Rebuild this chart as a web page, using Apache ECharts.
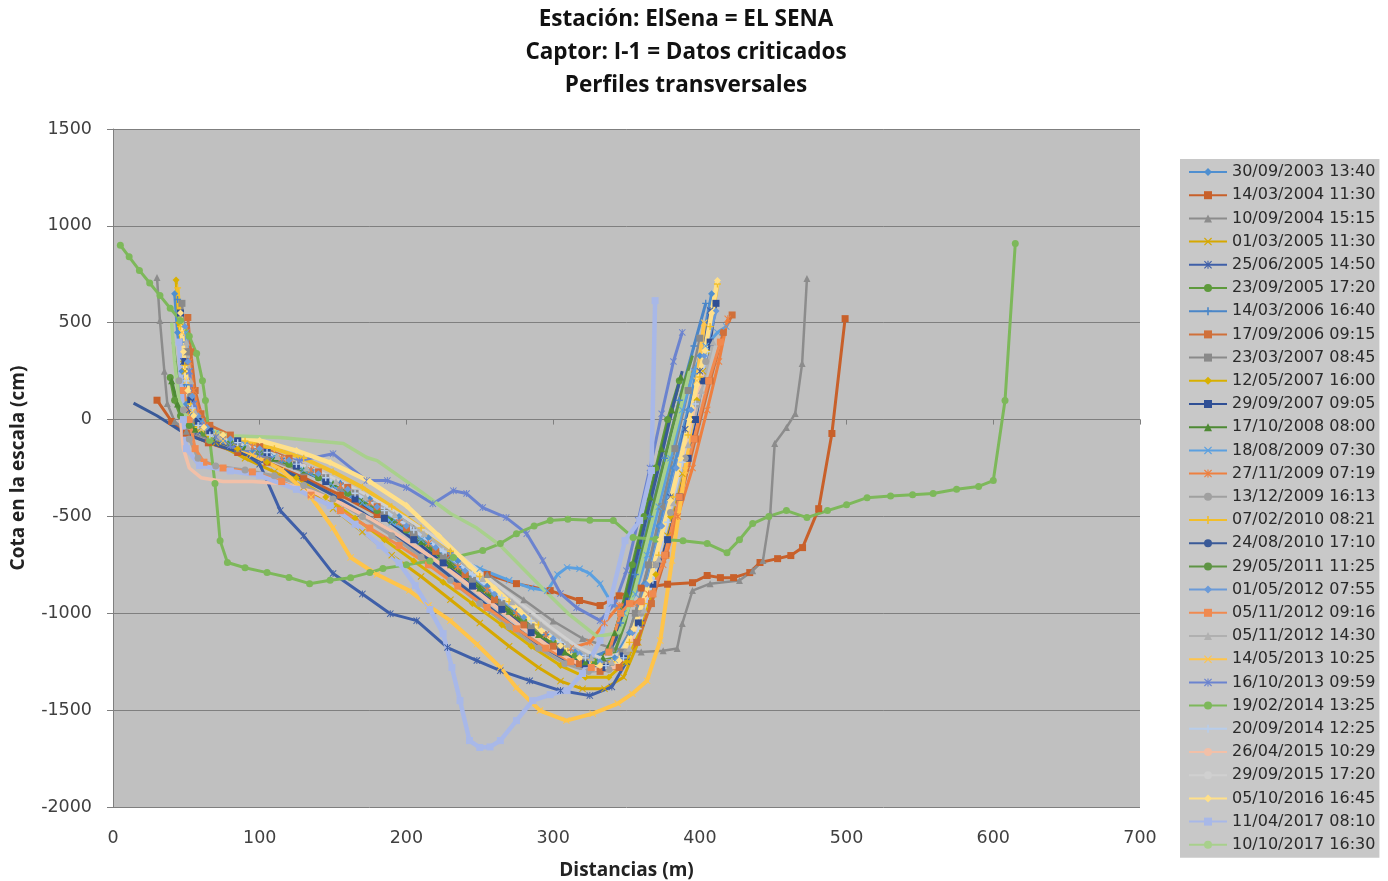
<!DOCTYPE html>
<html><head><meta charset="utf-8">
<script src="https://cdn.jsdelivr.net/npm/echarts@6/dist/echarts.min.js"></script>
<style>html,body{margin:0;padding:0;background:#fff}#c{width:1388px;height:881px}</style>
</head><body><div id="c"></div>
<script>
// ---- data ----
const titleLines = ['Estación: ElSena = EL SENA', 'Captor: I-1 = Datos criticados', 'Perfiles transversales'];
const xName = 'Distancias (m)';
const yName = 'Cota en la escala (cm)';
const xTicks = [0, 100, 200, 300, 400, 500, 600, 700];
const yTicks = [-2000, -1500, -1000, -500, 0, 500, 1000, 1500];
const seriesNames = ['30/09/2003 13:40','14/03/2004 11:30','10/09/2004 15:15','01/03/2005 11:30','25/06/2005 14:50','23/09/2005 17:20','14/03/2006 16:40','17/09/2006 09:15','23/03/2007 08:45','12/05/2007 16:00','29/09/2007 09:05','17/10/2008 08:00','18/08/2009 07:30','27/11/2009 07:19','13/12/2009 16:13','07/02/2010 08:21','24/08/2010 17:10','29/05/2011 11:25','01/05/2012 07:55','05/11/2012 09:16','05/11/2012 14:30','14/05/2013 10:25','16/10/2013 09:59','19/02/2014 13:25','20/09/2014 12:25','26/04/2015 10:29','29/09/2015 17:20','05/10/2016 16:45','11/04/2017 08:10','10/10/2017 16:30'];

const s01 = [[42,650],[44,450],[47,250],[50,80],[54,-20],[60,-60],[75,-110],[95,-160],[115,-210],[135,-270],[155,-330],[175,-410],[195,-500],[215,-610],[235,-730],[255,-860],[275,-990],[295,-1110],[315,-1200],[330,-1250],[342,-1230],[352,-1100],[362,-850],[372,-550],[382,-250],[392,50],[400,330],[408,650]];
const s02 = [[30,100],[40,-10],[50,-70],[65,-120],[85,-170],[105,-220],[130,-300],[155,-390],[180,-490],[205,-600],[230,-700],[255,-800],[275,-847],[298,-883],[318,-934],[332,-960],[345,-910],[360,-870],[378,-850],[395,-842],[405,-805],[414,-816],[423,-816],[434,-790],[441,-738],[453,-718],[462,-702],[470,-661],[481,-460],[490,-72],[499,521]];
const s03 = [[30,733],[32,511],[35,250],[37,83],[42,-10],[50,-60],[65,-100],[85,-150],[105,-200],[130,-270],[155,-350],[180,-450],[205,-560],[230,-680],[255,-800],[280,-930],[300,-1040],[320,-1130],[340,-1180],[360,-1200],[375,-1193],[384.5,-1182],[388,-1053],[395,-883],[407,-847],[427,-831],[436,-780],[443,-728],[448,-485],[451,-124],[459,-41],[465,31],[469.7,289],[473,728]];
const s04 = [[46,500],[49,250],[53,50],[58,-50],[70,-120],[90,-200],[110,-270],[130,-350],[150,-460],[170,-580],[190,-700],[210,-810],[230,-930],[250,-1050],[270,-1170],[290,-1280],[305,-1350],[320,-1390],[335,-1390],[348,-1330],[358,-1150],[368,-900],[378,-600],[388,-280],[396,0],[402,250]];
const s05 = [[48,300],[52,50],[58,-60],[70,-110],[85,-150],[100,-230],[114,-470],[130,-600],[150,-795],[170,-900],[189,-1002],[207,-1038],[228,-1177],[248,-1244],[264,-1296],[284,-1348],[305,-1399],[325,-1425],[340,-1380],[350,-1250],[360,-1050],[370,-750],[380,-400],[390,-50],[400,250],[407,563]];
const s06 = [[39,217],[42,100],[46,20],[52,-30],[62,-70],[80,-120],[100,-170],[120,-230],[140,-300],[160,-380],[180,-470],[200,-570],[220,-680],[240,-800],[260,-920],[280,-1040],[300,-1150],[315,-1220],[328,-1250],[338,-1200],[346,-1000],[354,-750],[362,-500],[370,-250],[378,0],[386,200]];
const s07 = [[44,620],[47,400],[50,180],[54,30],[60,-40],[75,-90],[95,-150],[115,-200],[135,-260],[155,-330],[175,-420],[195,-520],[215,-640],[235,-760],[255,-880],[275,-1000],[295,-1110],[312,-1190],[325,-1230],[336,-1200],[346,-1050],[356,-800],[366,-500],[376,-200],[386,100],[396,380],[404,600]];
const s08 = [[51,527],[53,350],[56,150],[60,30],[66,-30],[80,-80],[100,-140],[120,-200],[140,-270],[160,-350],[180,-450],[200,-560],[220,-680],[240,-800],[260,-930],[280,-1060],[300,-1170],[318,-1260],[332,-1300],[345,-1280],[357,-1150],[367,-950],[377,-700],[387,-400],[397,-100],[407,200],[416,450],[422,540]];
const s09 = [[47,600],[50,350],[53,120],[57,0],[65,-60],[85,-110],[105,-170],[125,-230],[145,-300],[165,-380],[185,-480],[205,-590],[225,-710],[245,-830],[265,-950],[285,-1070],[305,-1170],[322,-1240],[336,-1260],[347,-1200],[356,-1000],[365,-750],[374,-450],[383,-150],[392,150],[400,420]];
const s10 = [[43,720],[45,500],[48,300],[52,100],[57,-20],[65,-80],[85,-150],[105,-220],[125,-300],[145,-400],[165,-510],[185,-620],[205,-730],[225,-840],[245,-950],[265,-1060],[285,-1170],[305,-1270],[322,-1330],[338,-1330],[350,-1250],[360,-1050],[370,-800],[380,-500],[390,-200],[398,100],[405,350],[411,600]];
const s11 = [[46,550],[49,300],[53,100],[58,-10],[66,-60],[85,-110],[105,-170],[125,-240],[145,-320],[165,-410],[185,-510],[205,-620],[225,-740],[245,-860],[265,-980],[285,-1100],[305,-1200],[322,-1260],[336,-1280],[348,-1220],[358,-1050],[368,-850],[378,-620],[386,-400],[392,-200],[397,0],[402,200],[407,400],[411,600]];
const s12 = [[40,200],[44,80],[49,0],[56,-50],[70,-90],[90,-140],[110,-200],[130,-260],[150,-330],[170,-420],[190,-520],[210,-630],[230,-750],[250,-870],[270,-990],[290,-1110],[308,-1200],[322,-1250],[334,-1230],[342,-1100],[350,-900],[358,-650],[366,-400],[374,-150],[381,50],[387,220]];
const s13 = [[50,450],[52,250],[55,80],[60,-10],[70,-70],[90,-130],[110,-190],[130,-260],[150,-340],[170,-430],[190,-530],[210,-620],[230,-700],[250,-770],[270,-830],[285,-870],[296,-884],[303,-800],[309.5,-763],[318,-770],[325,-795],[332,-847],[340,-950],[348,-1000],[356,-900],[364,-700],[372,-450],[380,-200],[388,50],[396,250],[404,380],[412,450],[418,480]];
const s14 = [[52,300],[55,150],[58,40],[63,-30],[75,-80],[95,-140],[115,-200],[135,-260],[155,-340],[175,-430],[195,-530],[215,-640],[235,-760],[255,-880],[275,-1000],[295,-1110],[312,-1180],[325,-1150],[335,-1050],[345,-960],[355,-950],[365,-900],[375,-750],[385,-500],[395,-250],[405,50],[413,300],[419,520]];
const s15 = [[45,200],[48,50],[52,-100],[58,-200],[70,-240],[90,-260],[110,-290],[130,-340],[150,-410],[170,-500],[190,-600],[210,-710],[230,-830],[250,-950],[270,-1070],[290,-1180],[308,-1260],[324,-1300],[338,-1290],[350,-1200],[360,-1000],[370,-750],[380,-480],[390,-200],[398,80],[404,300]];
const s16 = [[44,680],[46,480],[49,280],[53,80],[58,-40],[70,-80],[90,-110],[110,-150],[130,-200],[150,-270],[170,-350],[190,-450],[210,-560],[230,-680],[250,-810],[270,-940],[290,-1060],[310,-1170],[326,-1240],[340,-1250],[352,-1150],[362,-950],[372,-700],[382,-400],[392,-80],[400,220],[407,480],[412,700]];
const s17 = [[14,85],[30,20],[46,-57],[55,-90],[70,-130],[90,-180],[110,-240],[130,-310],[150,-390],[170,-480],[190,-580],[210,-690],[230,-810],[250,-930],[270,-1050],[290,-1160],[308,-1240],[322,-1280],[334,-1260],[343,-1130],[351,-900],[359,-650],[367,-400],[375,-150],[382,80],[388,250]];
const s18 = [[41,400],[44,200],[48,60],[53,-20],[62,-70],[80,-110],[100,-160],[120,-220],[140,-290],[160,-370],[180,-460],[200,-560],[220,-670],[240,-790],[260,-910],[280,-1030],[300,-1140],[316,-1220],[330,-1260],[341,-1220],[349,-1050],[357,-800],[365,-550],[373,-300],[381,-50],[389,180],[395,330]];
const s19 = [[49,480],[51,300],[54,120],[58,20],[64,-40],[80,-100],[100,-150],[120,-210],[140,-280],[160,-360],[180,-450],[200,-550],[220,-660],[240,-780],[260,-900],[280,-1020],[300,-1130],[318,-1210],[332,-1250],[344,-1240],[354,-1100],[364,-850],[374,-550],[384,-250],[394,50],[403,330],[411,560]];
const s20 = [[48,150],[52,0],[56,-150],[62,-220],[75,-250],[95,-270],[115,-320],[135,-390],[155,-470],[175,-560],[195,-650],[215,-750],[235,-860],[255,-970],[275,-1080],[295,-1180],[312,-1250],[326,-1280],[338,-1200],[346,-1000],[352,-950],[360,-940],[368,-900],[376,-700],[386,-400],[396,-100],[406,200],[414,400]];
const s21 = [[50,400],[53,200],[56,40],[61,-40],[72,-90],[92,-140],[112,-190],[132,-250],[152,-320],[172,-400],[192,-490],[212,-590],[232,-700],[252,-820],[272,-940],[292,-1060],[310,-1160],[326,-1230],[340,-1250],[352,-1180],[362,-980],[372,-720],[382,-430],[392,-130],[401,150],[409,400]];
const s22 = [[47,450],[50,200],[54,40],[60,-50],[75,-110],[95,-180],[115,-260],[135,-400],[150,-560],[162,-712],[180,-800],[202,-883],[215,-960],[230,-1038],[248,-1160],[264,-1280],[275,-1384],[291,-1502],[309,-1554],[327,-1518],[344,-1466],[354,-1415],[364,-1348],[373,-1141],[381,-728],[390,-263],[398,201],[403,500]];
const s23 = [[52,250],[55,80],[60,-30],[70,-90],[80,-134],[100,-180],[127,-212],[150,-176],[173,-315],[187,-315],[200,-351],[218,-434],[232,-367],[241,-382],[252,-454],[268,-506],[282,-589],[293,-728],[305,-898],[316,-971],[332,-1038],[342,-950],[350,-780],[358,-520],[366,-250],[374,30],[382,300],[388,450]];
const s24 = [[5,900],[11,840],[18,770],[25,705],[32,640],[39,575],[46,511],[52,430],[57,341],[61,200],[63,98],[66,-108],[69.5,-330],[73,-625],[78,-738],[90,-765],[105,-790],[120,-815],[134,-847],[148,-830],[162,-816],[175,-790],[184,-769],[200,-750],[216,-730],[232,-712],[252,-676],[264,-640],[275,-589],[287,-550],[298,-521],[310,-515],[325,-520],[341,-521],[354.5,-609],[370,-618],[388.5,-625],[405,-640],[418.5,-687],[427,-620],[436,-537],[447,-500],[459,-470],[473,-506],[487,-470],[500,-440],[514,-403],[530,-395],[545,-388],[559,-382],[575,-360],[590,-345],[600,-315],[608,98],[615,909]];
const s25 = [[50,200],[54,60],[58,-30],[66,-80],[85,-120],[105,-170],[125,-230],[145,-300],[165,-380],[185,-470],[205,-570],[225,-680],[245,-800],[265,-920],[285,-1040],[305,-1150],[322,-1230],[336,-1270],[348,-1230],[358,-1080],[368,-830],[378,-530],[388,-220],[397,80],[405,350]];
const s26 = [[46,0],[48,-150],[52,-250],[60,-300],[75,-320],[95,-320],[115,-330],[135,-370],[155,-430],[175,-510],[195,-600],[215,-700],[235,-810],[255,-930],[275,-1050],[295,-1160],[312,-1240],[328,-1290],[342,-1280],[353,-1150],[363,-920],[373,-640],[383,-340],[393,-40],[402,240]];
const s27 = [[48,300],[51,120],[55,0],[62,-60],[78,-100],[98,-150],[118,-200],[138,-260],[158,-330],[178,-410],[198,-500],[218,-600],[238,-710],[258,-830],[278,-950],[298,-1070],[316,-1170],[332,-1230],[345,-1210],[355,-1080],[365,-850],[375,-560],[385,-260],[394,30],[402,300]];
const s28 = [[46,550],[48,350],[51,150],[55,20],[62,-40],[75,-80],[100,-108],[125,-160],[148,-222],[175,-320],[200,-444],[222,-600],[243,-754],[260,-870],[277,-986],[292,-1090],[305,-1167],[318,-1230],[332,-1270],[345,-1244],[355,-1080],[366,-831],[373,-620],[380,-418],[387,-200],[393,0],[398,180],[403.5,356],[408,550],[412,718]];
const s29 = [[45,400],[48,0],[50,-150],[59,-237],[80,-265],[100,-289],[125,-360],[148,-444],[165,-540],[182,-650],[195,-740],[206,-857],[216,-980],[225,-1105],[231,-1280],[236.5,-1451],[243,-1657],[250,-1693],[257,-1690],[264,-1657],[275,-1554],[286,-1451],[298,-1420],[309.5,-1399],[320,-1311],[332,-1141],[339,-935],[349,-625],[359,-521],[367,-263],[369.5,614]];
const s30 = [[40,500],[42,300],[45,100],[50,20],[60,-40],[80,-83],[114,-93],[157,-124],[173,-196],[180,-212],[209,-367],[230,-485],[248,-560],[264,-650],[290,-850],[310,-1000],[330,-1120],[345,-1100],[355,-900],[365,-600],[375,-300],[385,0],[393,250]];
const seriesData = [s01,s02,s03,s04,s05,s06,s07,s08,s09,s10,s11,s12,s13,s14,s15,s16,s17,s18,s19,s20,s21,s22,s23,s24,s25,s26,s27,s28,s29,s30];

// ---- styles ----
const X = 'path://M0,1L1,0L5,4L9,0L10,1L6,5L10,9L9,10L5,6L1,10L0,9L4,5Z';
const PLUS = 'path://M4,0H6V4H10V6H6V10H4V6H0V4H4Z';
const DASH = 'path://M0,4H10V6H0Z';
const STAR = 'path://M0,1L1,0L5,4L9,0L10,1L6,5L10,9L9,10L5,6L1,10L0,9L4,5Z M4.3,0H5.7V10H4.3Z';
const colors = ['#4F8FD0','#C8602A','#8C8C8C','#D6A800','#3F5FA8','#5E9A3C','#4A86C8','#D0703A','#8A8A8A','#D8B000','#2F4F95','#4E8A34','#5BA0E0','#EE8040','#A0A0A0','#F2BE2A','#3A5A98','#5E9444','#6A9AD8','#F08A50','#B0B0B0','#FFC44A','#6B83CF','#7DB85A','#B8CDEA','#F2C0A8','#D0D0D0','#FFE08A','#A8B8E8','#A8D08C'];
const symbols = ['diamond','rect','triangle',X,STAR,'circle',PLUS,DASH,DASH,'diamond','rect','triangle',X,STAR,'circle',PLUS,'none','none','diamond','rect','triangle',X,STAR,'circle',PLUS,'none','none','diamond','rect','none'];
const widths = [3,3,2.5,3,3,3,3,3,2.5,3,3,3,3,3,3,4,3,3,3,3,3,4,3,3,3,3.5,3,4.5,4.5,3.5];

const chart = echarts.init(document.getElementById('c'), null, {renderer: 'canvas'});
const series = seriesNames.map((n, i) => ({
  name: n, type: 'line', xAxisIndex: 0, yAxisIndex: 0,
  data: seriesData[i], symbol: symbols[i], symbolSize: 7,
  showSymbol: symbols[i] !== 'none', clip: true,
  lineStyle: {width: widths[i], color: colors[i]},
  itemStyle: {color: colors[i]},
  emphasis: {disabled: true}
}));

chart.setOption({
  animation: false,
  backgroundColor: '#ffffff',
  title: {
    text: titleLines.join('\n'), left: 686, top: 3, textAlign: 'center', padding: 0,
    textStyle: {fontFamily: 'Open Sans', fontWeight: 'bold', fontSize: 22.5, lineHeight: 33, color: '#111'}
  },
  legend: {
    orient: 'vertical', left: 1180, top: 159, selectedMode: false,
    backgroundColor: '#c8c8c8', padding: [5, 4, 5, 8],
    itemWidth: 38, itemHeight: 10, itemGap: 7.2,
    textStyle: {fontFamily: 'DejaVu Sans', fontSize: 16, lineHeight: 16, color: '#2a2a2a'},
    data: seriesNames
  },
  grid: {left: 113, top: 129, right: 248, bottom: 74, show: true, backgroundColor: '#c0c0c0', borderWidth: 0,
    containLabel: false, outerBoundsMode: 'none'},
  xAxis: [{
    type: 'value', min: xTicks[0], max: xTicks[xTicks.length - 1], interval: 100, position: 'bottom',
    axisLine: {show: true, onZero: true, lineStyle: {color: '#7f7f7f', width: 1}},
    axisTick: {show: true, length: 5, lineStyle: {color: '#7f7f7f'}},
    axisLabel: {show: false}, splitLine: {show: false}
  }, {
    type: 'value', min: xTicks[0], max: xTicks[xTicks.length - 1], interval: 100, position: 'bottom',
    axisLine: {show: false, onZero: false}, axisTick: {show: false}, splitLine: {show: false},
    axisLabel: {margin: 22, fontFamily: 'DejaVu Sans', fontSize: 17.5, color: '#404040', formatter: v => String(v)},
    name: xName, nameLocation: 'middle', nameGap: 54,
    nameTextStyle: {fontFamily: 'Open Sans', fontWeight: 'bold', fontSize: 19, color: '#222'}
  }],
  yAxis: {
    type: 'value', min: yTicks[0], max: yTicks[yTicks.length - 1], interval: 500,
    axisLine: {show: true, lineStyle: {color: '#7f7f7f', width: 1}},
    axisTick: {show: true, length: 6, lineStyle: {color: '#7f7f7f'}},
    splitLine: {show: true, lineStyle: {color: '#7f7f7f', width: 1}},
    axisLabel: {margin: 21, fontFamily: 'DejaVu Sans', fontSize: 17.5, color: '#404040', formatter: v => String(v)},
    name: yName, nameLocation: 'middle', nameGap: 85, nameRotate: 90,
    nameTextStyle: {fontFamily: 'Open Sans', fontWeight: 'bold', fontSize: 19, color: '#222'}
  },
  series: series
});
</script>
</body></html>
